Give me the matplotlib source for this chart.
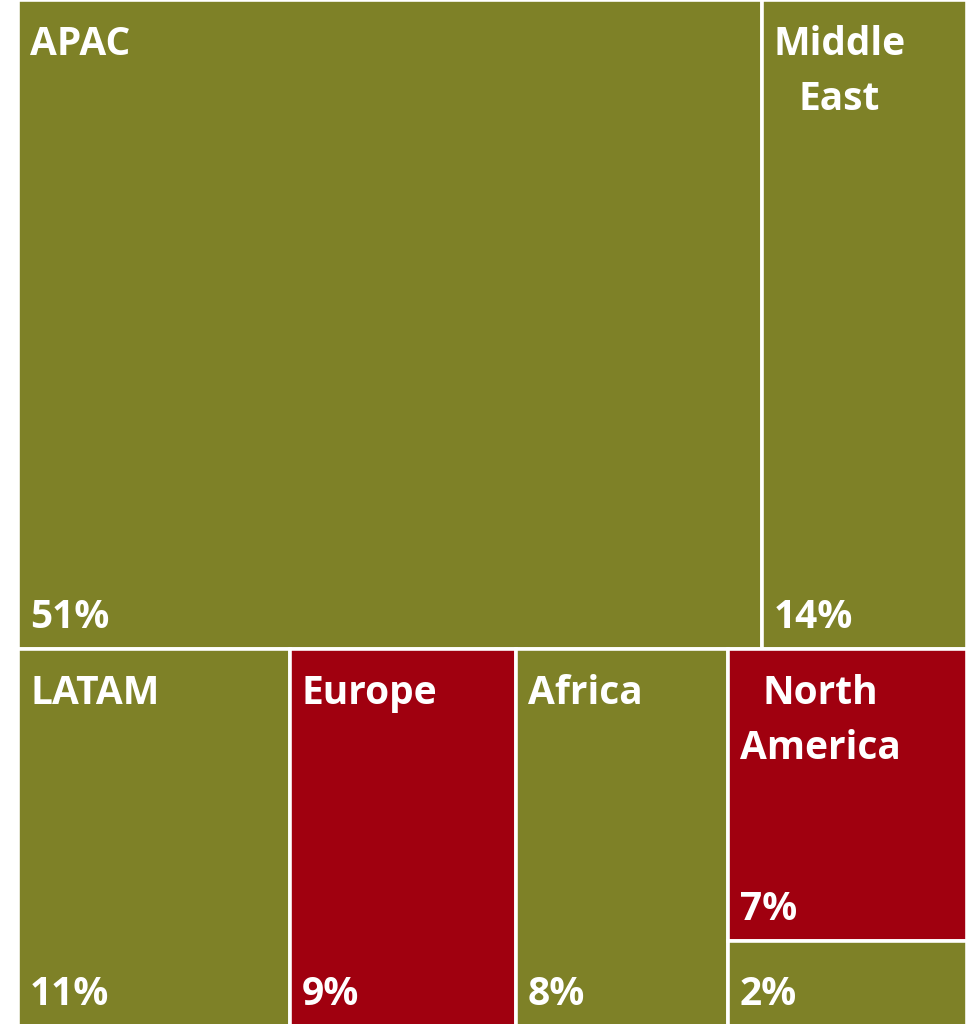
import matplotlib
matplotlib.use("Agg")
import matplotlib.pyplot as plt
from matplotlib.patches import Rectangle

# Data
regions = ["APAC", "Middle\nEast", "LATAM", "Europe", "Africa", "North\nAmerica", ""]
share_labels = [51, 14, 11, 9, 8, 7, 2]          # printed percentages
area_weights = [49.6, 13.7, 10.5, 8.76, 8.2, 7.16, 2.08]  # tile sizes
colors_key = ["olive", "olive", "olive", "red", "olive", "red", "olive"]

palette = {"olive": "#7E8127", "red": "#A0000F"}

W, H = 949.0, 1026.0
fig = plt.figure(figsize=(9.77, 10.24), dpi=100)
ax = fig.add_axes([18 / 977, -2 / 1024, W / 977, H / 1024])
ax.set_xlim(0, W)
ax.set_ylim(H, 0)
ax.axis("off")

total = sum(area_weights)
top_sum = area_weights[0] + area_weights[1]
top_h = H * top_sum / total
rects = []
# top row
x = 0
for v in area_weights[0:2]:
    w = W * v / top_sum
    rects.append((x, 0, w, top_h))
    x += w
# bottom row: LATAM, Europe, Africa, then column of NA + other
bot_sum = total - top_sum
bot_h = H - top_h
x = 0
for v in area_weights[2:5]:
    w = W * v / bot_sum
    rects.append((x, top_h, w, bot_h))
    x += w
col_sum = area_weights[5] + area_weights[6]
w = W - x
h1 = bot_h * area_weights[5] / col_sum
rects.append((x, top_h, w, h1))
rects.append((x, top_h + h1, w, bot_h - h1))

font = dict(family=["Open Sans", "DejaVu Sans"], fontweight="bold", color="white", fontsize=28)
for (rx, ry, rw, rh), name, val, ck in zip(rects, regions, share_labels, colors_key):
    ax.add_patch(Rectangle((rx, ry), rw, rh, facecolor=palette[ck], edgecolor="white", linewidth=2.6))
    if name:
        ax.text(rx + 12, ry + 25, name, ha="left", va="top", multialignment="center",
                linespacing=1.52, **font)
    ax.text(rx + 12, ry + rh - 21, f"{val}%", ha="left", va="baseline", **font)

fig.savefig("out.png", dpi=100, facecolor="white")
